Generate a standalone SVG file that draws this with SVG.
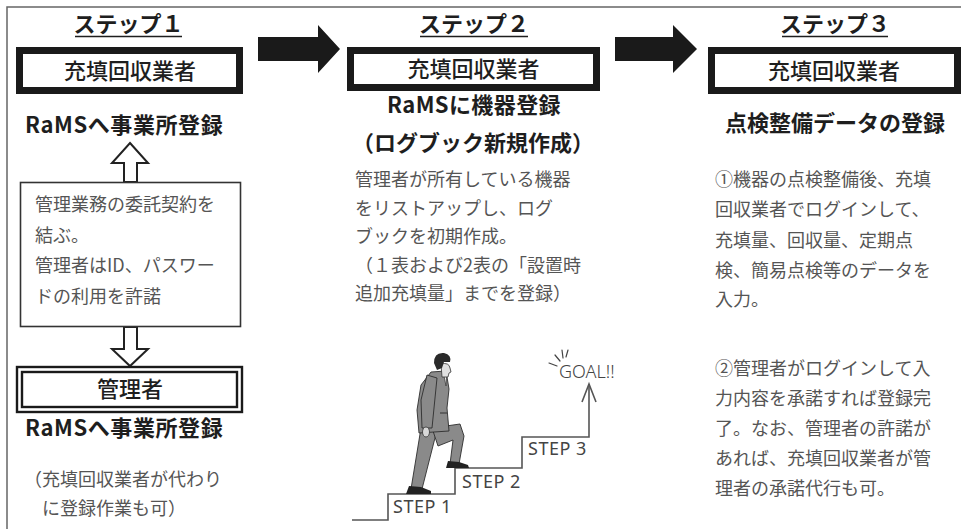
<svg xmlns="http://www.w3.org/2000/svg" width="961" height="529" viewBox="0 0 961 529">
  <style>
    .jp { font-family: "Noto Sans CJK JP", "Noto Sans", sans-serif; }
    .title { font-size: 22px; font-weight: 700; fill: #1e1e1e; }
    .head { font-size: 22px; font-weight: 700; fill: #1e1e1e; }
    .boxlabel { font-size: 22px; font-weight: 500; fill: #1e1e1e; text-anchor: middle; }
    .body { font-size: 18px; font-weight: 400; fill: #555; }
    .thick { fill: #fff; stroke: #1a1a1a; stroke-width: 7; }
    .thin { fill: #fff; stroke: #333; stroke-width: 1.6; }
    .dbl { fill: none; stroke: #1a1a1a; stroke-width: 2.4; }
    .hollow { fill: #fff; stroke: #222; stroke-width: 2; stroke-linejoin: miter; }
    .bigarrow { fill: #1a1a1a; }
    .uline { stroke: #1e1e1e; stroke-width: 1.6; }
    .stair { fill: none; stroke: #555; stroke-width: 1.6; }
    .step { font-family: "Noto Sans", "DejaVu Sans", sans-serif; font-size: 18px; fill: #444; }
    .suit { fill: #8a8a8a; stroke: #2e2e2e; stroke-width: 0.9; stroke-linejoin: round; }
    .shoe { fill: #222; }
  </style>

  <!-- outer frame (top and left edges) -->
  <path d="M7 529 V7 H961" fill="none" stroke="#666" stroke-width="1.5"/>

  <!-- connectors: process arrows between steps and hollow arrows in step 1 -->
  <g id="connectors">
    <polygon class="bigarrow" points="258,37 318,37 318,25 340,49 318,73 318,61 258,61"/>
    <polygon class="bigarrow" points="615,37 673,37 673,25 697,49 673,73 673,61 615,61"/>
    <polygon class="hollow" points="130,143 148,163 137,163 137,182 124,182 124,163 112,163"/>
    <polygon class="hollow" points="124,327 137,327 137,349 148,349 130,366 112,349 124,349"/>
  </g>

  <!-- step 1 -->
  <g id="step1-title">
    <text class="jp title" x="128.5" y="32" text-anchor="middle">ステップ１</text>
    <line class="uline" x1="75" y1="36.5" x2="182" y2="36.5"/>
  </g>
  <g id="step1-operator">
    <rect class="thick" x="19.5" y="50.5" width="220" height="40"/>
    <text class="jp boxlabel" x="130" y="79">充填回収業者</text>
  </g>
  <g id="step1-register">
    <text class="jp head" x="25" y="133" letter-spacing="0.6">RaMSへ事業所登録</text>
  </g>
  <g id="step1-contract">
    <rect class="thin" x="20.5" y="182.5" width="220" height="144"/>
    <text class="jp body" x="35" y="211">管理業務の委託契約を</text>
    <text class="jp body" x="35" y="242">結ぶ。</text>
    <text class="jp body" x="35" y="272">管理者はID、パスワー</text>
    <text class="jp body" x="35" y="303">ドの利用を許諾</text>
  </g>
  <g id="step1-manager">
    <rect class="dbl" x="17" y="367" width="225" height="45"/>
    <rect class="dbl" x="22" y="372" width="215" height="35"/>
    <text class="jp boxlabel" x="130" y="397">管理者</text>
  </g>
  <g id="step1-manager-register">
    <text class="jp head" x="25" y="436" letter-spacing="0.6">RaMSへ事業所登録</text>
    <text class="jp body" x="24" y="486">（充填回収業者が代わり</text>
    <text class="jp body" x="42" y="515">に登録作業も可）</text>
  </g>

  <!-- step 2 -->
  <g id="step2-title">
    <text class="jp title" x="474" y="32" text-anchor="middle">ステップ２</text>
    <line class="uline" x1="420" y1="36.5" x2="528" y2="36.5"/>
  </g>
  <g id="step2-operator">
    <rect class="thick" x="350.5" y="50.5" width="246" height="37"/>
    <text class="jp boxlabel" x="473.5" y="77">充填回収業者</text>
  </g>
  <g id="step2-register">
    <text class="jp head" x="474" y="113" text-anchor="middle" letter-spacing="0.4">RaMSに機器登録</text>
    <text class="jp head" x="473" y="151" text-anchor="middle">（ログブック新規作成）</text>
    <text class="jp body" x="355" y="186">管理者が所有している機器</text>
    <text class="jp body" x="355" y="215">をリストアップし、ログ</text>
    <text class="jp body" x="355" y="243">ブックを初期作成。</text>
    <text class="jp body" x="355" y="272">（１表および2表の「設置時</text>
    <text class="jp body" x="355" y="300">追加充填量」までを登録）</text>
  </g>

  <!-- staircase illustration -->
  <g id="staircase">
    <path class="stair" d="M352 520 H388 V494 H455 V468 H522 V437 H589 V384"/>
    <path class="stair" d="M582 402 L589 384 L596 402"/>
    <text class="step" x="393" y="513" letter-spacing="0.5">STEP 1</text>
    <text class="step" x="462" y="488" letter-spacing="0.5">STEP 2</text>
    <text class="step" x="528" y="455" letter-spacing="0.5">STEP 3</text>
    <text class="step" x="559" y="378" style="font-weight:300">GOAL!!</text>
    <g stroke="#444" stroke-width="1.2" stroke-linecap="round">
      <line x1="549" y1="363" x2="557" y2="366"/>
      <line x1="555" y1="355" x2="560" y2="361"/>
      <line x1="562" y1="350" x2="563" y2="358"/>
      <line x1="568" y1="350" x2="566" y2="357"/>
    </g>
  </g>

  <!-- businessman climbing the stairs -->
  <g id="climber">
    <!-- back leg -->
    <polygon class="suit" points="421,428 437,430 422,489 411,489"/>
    <!-- front leg -->
    <polygon class="suit" points="432,428 460,424 464,436 459,464 450,464 453,440 438,446"/>
    <!-- shoes -->
    <path class="shoe" d="M409 486 L421 487 L431 491 L431 494 L406 494 Z"/>
    <path class="shoe" d="M448 461 L459 462 L468 465 L469 468 L446 468 Z"/>
    <!-- jacket -->
    <polygon class="suit" points="431,372 446,371 449,389 447,408 449,431 419,433 417,410 421,385"/>
    <line x1="440" y1="413" x2="447" y2="413" stroke="#333" stroke-width="1"/>
    <!-- shirt and tie -->
    <path d="M443 371 L447 371 L446 386 Z" fill="#eee" stroke="#333" stroke-width="0.7"/>
    <!-- arm and hand -->
    <polygon class="suit" points="427,375 437,378 432,428 422,428 421,400"/>
    <ellipse cx="426" cy="432" rx="3.5" ry="5" fill="#d8d8d8" stroke="#333" stroke-width="0.8"/>
    <!-- head -->
    <path d="M441 364 Q449 362 450 368 L451 372 L449 373 L448 377 L442 377 Z" fill="#e0e0e0" stroke="#333" stroke-width="0.8"/>
    <path d="M434 363 Q434 352 444 353 Q452 355 450 362 L444 362 L442 368 L437 370 Z" fill="#2a2a2a"/>
  </g>

  <!-- step 3 -->
  <g id="step3-title">
    <text class="jp title" x="835" y="32" text-anchor="middle">ステップ３</text>
    <line class="uline" x1="782" y1="36.5" x2="888" y2="36.5"/>
  </g>
  <g id="step3-operator">
    <rect class="thick" x="711.5" y="50.5" width="246" height="40"/>
    <text class="jp boxlabel" x="834" y="79">充填回収業者</text>
  </g>
  <g id="step3-register">
    <text class="jp head" x="835" y="131" text-anchor="middle">点検整備データの登録</text>
    <text class="jp body" x="715" y="186">①機器の点検整備後、充填</text>
    <text class="jp body" x="715" y="216">回収業者でログインして、</text>
    <text class="jp body" x="715" y="247">充填量、回収量、定期点</text>
    <text class="jp body" x="715" y="277">検、簡易点検等のデータを</text>
    <text class="jp body" x="715" y="306">入力。</text>
    <text class="jp body" x="715" y="375">②管理者がログインして入</text>
    <text class="jp body" x="715" y="405">力内容を承諾すれば登録完</text>
    <text class="jp body" x="715" y="435">了。なお、管理者の許諾が</text>
    <text class="jp body" x="715" y="465">あれば、充填回収業者が管</text>
    <text class="jp body" x="715" y="495">理者の承諾代行も可。</text>
  </g>
</svg>
